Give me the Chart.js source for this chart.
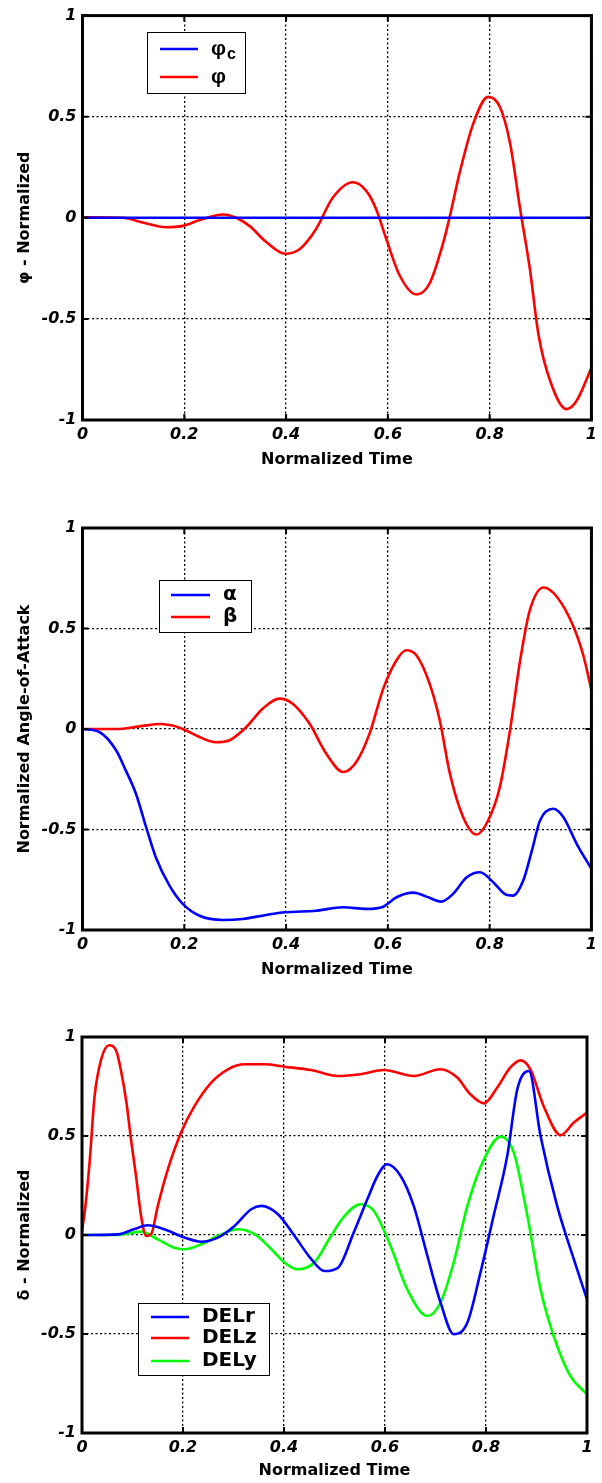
<!DOCTYPE html>
<html><head><meta charset="utf-8">
<script src="https://cdn.jsdelivr.net/npm/chart.js@4"></script>
<style>
html,body{margin:0;padding:0;background:#fff;width:602px;height:1483px;overflow:hidden;position:relative}
canvas{position:absolute;left:0}
</style></head><body>
<canvas id="c1" width="602" height="472" style="top:0px"></canvas>
<canvas id="c2" width="602" height="482" style="top:500px"></canvas>
<canvas id="c3" width="602" height="483" style="top:1000px"></canvas>
<script>
// ---------- data ----------
const xTickLabels = ['0','0.2','0.4','0.6','0.8','1'];
const yTickLabels = ['-1','-0.5','0','0.5','1'];
const xTitle = 'Normalized Time';

// Plot 1: roll angle
const phiCTime = [0, 1];
const phiC = [0, 0];
const phiTime = [0,0.079,0.118,0.164,0.197,0.230,0.276,0.302,0.328,0.361,0.398,0.427,0.459,0.492,0.531,0.558,0.577,0.597,0.623,0.656,0.682,0.709,0.722,0.741,0.768,0.797,0.820,0.840,0.860,0.879,0.896,0.919,0.951,0.971,1.0];
const phi = [0.003,0.0,-0.023,-0.047,-0.04,-0.011,0.016,0.0,-0.04,-0.12,-0.178,-0.154,-0.055,0.10,0.176,0.132,0.042,-0.105,-0.284,-0.379,-0.325,-0.121,0.01,0.222,0.467,0.598,0.549,0.37,0.042,-0.252,-0.578,-0.807,-0.946,-0.905,-0.742];

// Plot 2: angle of attack / sideslip
const alphaTime = [0,0.033,0.066,0.085,0.105,0.125,0.144,0.171,0.197,0.230,0.276,0.315,0.361,0.398,0.459,0.512,0.558,0.591,0.617,0.650,0.676,0.705,0.728,0.755,0.781,0.807,0.830,0.846,0.866,0.883,0.899,0.925,0.945,0.971,1.0];
const alpha = [0,-0.015,-0.106,-0.206,-0.322,-0.488,-0.638,-0.779,-0.870,-0.929,-0.950,-0.945,-0.925,-0.912,-0.904,-0.887,-0.895,-0.884,-0.837,-0.814,-0.834,-0.859,-0.821,-0.738,-0.713,-0.762,-0.821,-0.829,-0.754,-0.605,-0.455,-0.397,-0.439,-0.571,-0.696];
const betaTime = [0,0.066,0.112,0.154,0.177,0.197,0.230,0.262,0.289,0.322,0.354,0.387,0.413,0.446,0.479,0.512,0.538,0.564,0.591,0.617,0.636,0.656,0.682,0.702,0.722,0.748,0.774,0.797,0.820,0.840,0.860,0.879,0.906,0.932,0.965,0.984,1.0];
const beta = [0,0,0.013,0.025,0.017,0,-0.04,-0.066,-0.056,0.01,0.101,0.151,0.126,0.027,-0.123,-0.214,-0.164,-0.023,0.201,0.342,0.392,0.367,0.226,0.043,-0.223,-0.439,-0.525,-0.455,-0.289,-0.007,0.342,0.591,0.704,0.658,0.508,0.367,0.193];

// Plot 3: control deflections
const delrTime = [0,0.071,0.104,0.130,0.163,0.203,0.236,0.269,0.302,0.335,0.355,0.388,0.421,0.454,0.480,0.507,0.538,0.565,0.585,0.604,0.631,0.657,0.684,0.710,0.736,0.763,0.789,0.815,0.842,0.862,0.885,0.908,0.941,0.974,1.0];
const delr = [0,0.003,0.03,0.049,0.029,-0.013,-0.034,-0.013,0.046,0.130,0.147,0.105,-0.005,-0.122,-0.182,-0.165,0.012,0.18,0.298,0.357,0.298,0.146,-0.106,-0.341,-0.501,-0.443,-0.19,0.096,0.399,0.736,0.828,0.5,0.146,-0.123,-0.325];
const delzTime = [0,0.006,0.015,0.025,0.038,0.054,0.068,0.078,0.088,0.097,0.107,0.117,0.127,0.137,0.150,0.170,0.196,0.223,0.256,0.289,0.322,0.361,0.401,0.454,0.507,0.551,0.598,0.657,0.710,0.743,0.769,0.796,0.822,0.848,0.868,0.888,0.914,0.948,0.974,1.0];
const delz = [0.02,0.13,0.366,0.702,0.887,0.958,0.929,0.82,0.669,0.483,0.298,0.096,-0.005,0.004,0.146,0.332,0.517,0.652,0.770,0.837,0.862,0.862,0.850,0.833,0.803,0.812,0.833,0.803,0.837,0.795,0.711,0.665,0.744,0.845,0.882,0.837,0.652,0.504,0.568,0.618];
const delyTime = [0,0.071,0.117,0.150,0.183,0.203,0.236,0.269,0.309,0.342,0.375,0.401,0.427,0.460,0.493,0.520,0.551,0.578,0.611,0.644,0.684,0.710,0.736,0.763,0.796,0.829,0.855,0.882,0.908,0.934,0.967,1.0];
const dely = [0,0,0.017,-0.022,-0.064,-0.072,-0.047,-0.005,0.029,0.004,-0.072,-0.139,-0.173,-0.139,-0.005,0.096,0.155,0.121,-0.056,-0.274,-0.409,-0.341,-0.139,0.146,0.382,0.497,0.416,0.096,-0.274,-0.51,-0.712,-0.804];

// ---------- drawing ----------
const FONT = '"DejaVu Sans", "Liberation Sans", Arial, sans-serif';
const FONT_GREEK = '"Liberation Sans", "DejaVu Sans", Arial, sans-serif';
const BLUE = '#0000ff', RED = '#ff0000', GREEN = '#00ff00';

const matlabAxes = {
  id: 'matlabAxes',
  afterDatasetsDraw(chart) {
    const {ctx, chartArea: a, scales: {x, y}} = chart;
    ctx.save();
    ctx.strokeStyle = '#000';
    ctx.lineWidth = 2;
    ctx.beginPath();
    x.ticks.forEach(t => {
      const px = x.getPixelForValue(t.value);
      ctx.moveTo(px, a.bottom); ctx.lineTo(px, a.bottom - 6);
      ctx.moveTo(px, a.top); ctx.lineTo(px, a.top + 6);
    });
    y.ticks.forEach(t => {
      const py = y.getPixelForValue(t.value);
      ctx.moveTo(a.left, py); ctx.lineTo(a.left + 6, py);
      ctx.moveTo(a.right, py); ctx.lineTo(a.right - 6, py);
    });
    ctx.stroke();
    ctx.lineWidth = 3;
    ctx.strokeRect(a.left, a.top, a.right - a.left, a.bottom - a.top);
    ctx.restore();
  },
  afterDraw(chart, args, opts) {
    if (!opts || !opts.box) return;
    const ctx = chart.ctx;
    const [bx, by, bw, bh] = opts.box;
    const fam = opts.family || FONT;
    ctx.save();
    ctx.fillStyle = '#fff';
    ctx.fillRect(bx, by, bw, bh);
    ctx.strokeStyle = '#000';
    ctx.lineWidth = 1;
    ctx.strokeRect(bx + 0.5, by + 0.5, bw, bh);
    chart.data.datasets.forEach((ds, i) => {
      const ry = opts.rows[i];
      ctx.strokeStyle = ds.borderColor;
      ctx.lineWidth = 2.5;
      ctx.beginPath();
      ctx.moveTo(opts.lineX[0], ry); ctx.lineTo(opts.lineX[1], ry);
      ctx.stroke();
      const parts = ds.label.split('_');
      ctx.fillStyle = '#000';
      ctx.textBaseline = 'middle';
      ctx.textAlign = 'left';
      ctx.font = 'bold ' + opts.fontSize + 'px ' + fam;
      ctx.fillText(parts[0], opts.textX, ry);
      if (parts[1]) {
        const w = ctx.measureText(parts[0]).width;
        ctx.font = 'bold ' + Math.round(opts.fontSize * 0.75) + 'px ' + fam;
        ctx.fillText(parts[1], opts.textX + w + 1, ry + 6);
      }
    });
    ctx.restore();
  }
};

function makeChart(id, series, cfg) {
  const datasets = series.map(s => ({
    label: s.label,
    data: s.time.map((t, i) => ({x: t, y: s.values[i]})),
    borderColor: s.color,
    borderWidth: 2.6,
    pointRadius: 0,
    fill: false,
    cubicInterpolationMode: 'monotone'
  }));
  const tickFont = {family: FONT, size: 16, weight: 'bold', style: 'italic'};
  const titleFont = {family: FONT, size: 16, weight: 'bold'};
  return new Chart(document.getElementById(id), {
    type: 'line',
    data: {datasets},
    options: {
      responsive: false,
      animation: false,
      devicePixelRatio: 1,
      layout: {padding: {top: cfg.padTop, right: cfg.padRight, left: 0, bottom: 0}},
      plugins: {
        legend: {display: false},
        tooltip: {enabled: false},
        matlabAxes: cfg.legend
      },
      scales: {
        x: {
          type: 'linear', min: 0, max: 1,
          ticks: {stepSize: 0.2, autoSkip: false, maxRotation: 0, color: '#000', font: tickFont, padding: 5,
                  callback: (v, i) => xTickLabels[i]},
          grid: {color: '#000', lineWidth: 1.3, drawTicks: false},
          border: {display: false, dash: [2, 2.5]},
          title: {display: true, text: xTitle, color: '#000', font: titleFont, padding: {top: 0, bottom: cfg.xTitlePad}},
          afterFit: s => { s.height = cfg.xHeight; }
        },
        y: {
          type: 'linear', min: -1, max: 1,
          ticks: {stepSize: 0.5, autoSkip: false, color: '#000', font: tickFont, padding: 6,
                  callback: (v, i) => yTickLabels[i]},
          grid: {color: '#000', lineWidth: 1.3, drawTicks: false},
          border: {display: false, dash: [2, 2.5]},
          title: {display: true, text: cfg.yTitle, color: '#000', font: titleFont, padding: {top: 15, bottom: 0}},
          afterFit: s => { s.width = cfg.yWidth; }
        }
      }
    },
    plugins: [matlabAxes]
  });
}

makeChart('c1', [
  {label: 'φ_c', time: phiCTime, values: phiC, color: BLUE},
  {label: 'φ', time: phiTime, values: phi, color: RED}
], {padTop: 12, padRight: 10, yWidth: 82.5, xHeight: 52, xTitlePad: 3, yTitle: 'φ - Normalized',
    legend: {box: [147, 32, 98, 61], lineX: [160, 198], rows: [49, 77], textX: 211, fontSize: 21, family: FONT_GREEK}});

makeChart('c2', [
  {label: 'α', time: alphaTime, values: alpha, color: BLUE},
  {label: 'β', time: betaTime, values: beta, color: RED}
], {padTop: 28, padRight: 10, yWidth: 82.5, xHeight: 52, xTitlePad: 3, yTitle: 'Normalized Angle-of-Attack',
    legend: {box: [159, 80, 92, 52], lineX: [171, 210], rows: [95, 117], textX: 223, fontSize: 20}});

makeChart('c3', [
  {label: 'DELr', time: delrTime, values: delr, color: BLUE},
  {label: 'DELz', time: delzTime, values: delz, color: RED},
  {label: 'DELy', time: delyTime, values: dely, color: GREEN}
], {padTop: 37, padRight: 15, yWidth: 82, xHeight: 50, xTitlePad: 3, yTitle: 'δ - Normalized',
    legend: {box: [138, 303, 131, 72], lineX: [151, 189], rows: [317, 338, 361], textX: 202, fontSize: 20}});
</script>
</body></html>
